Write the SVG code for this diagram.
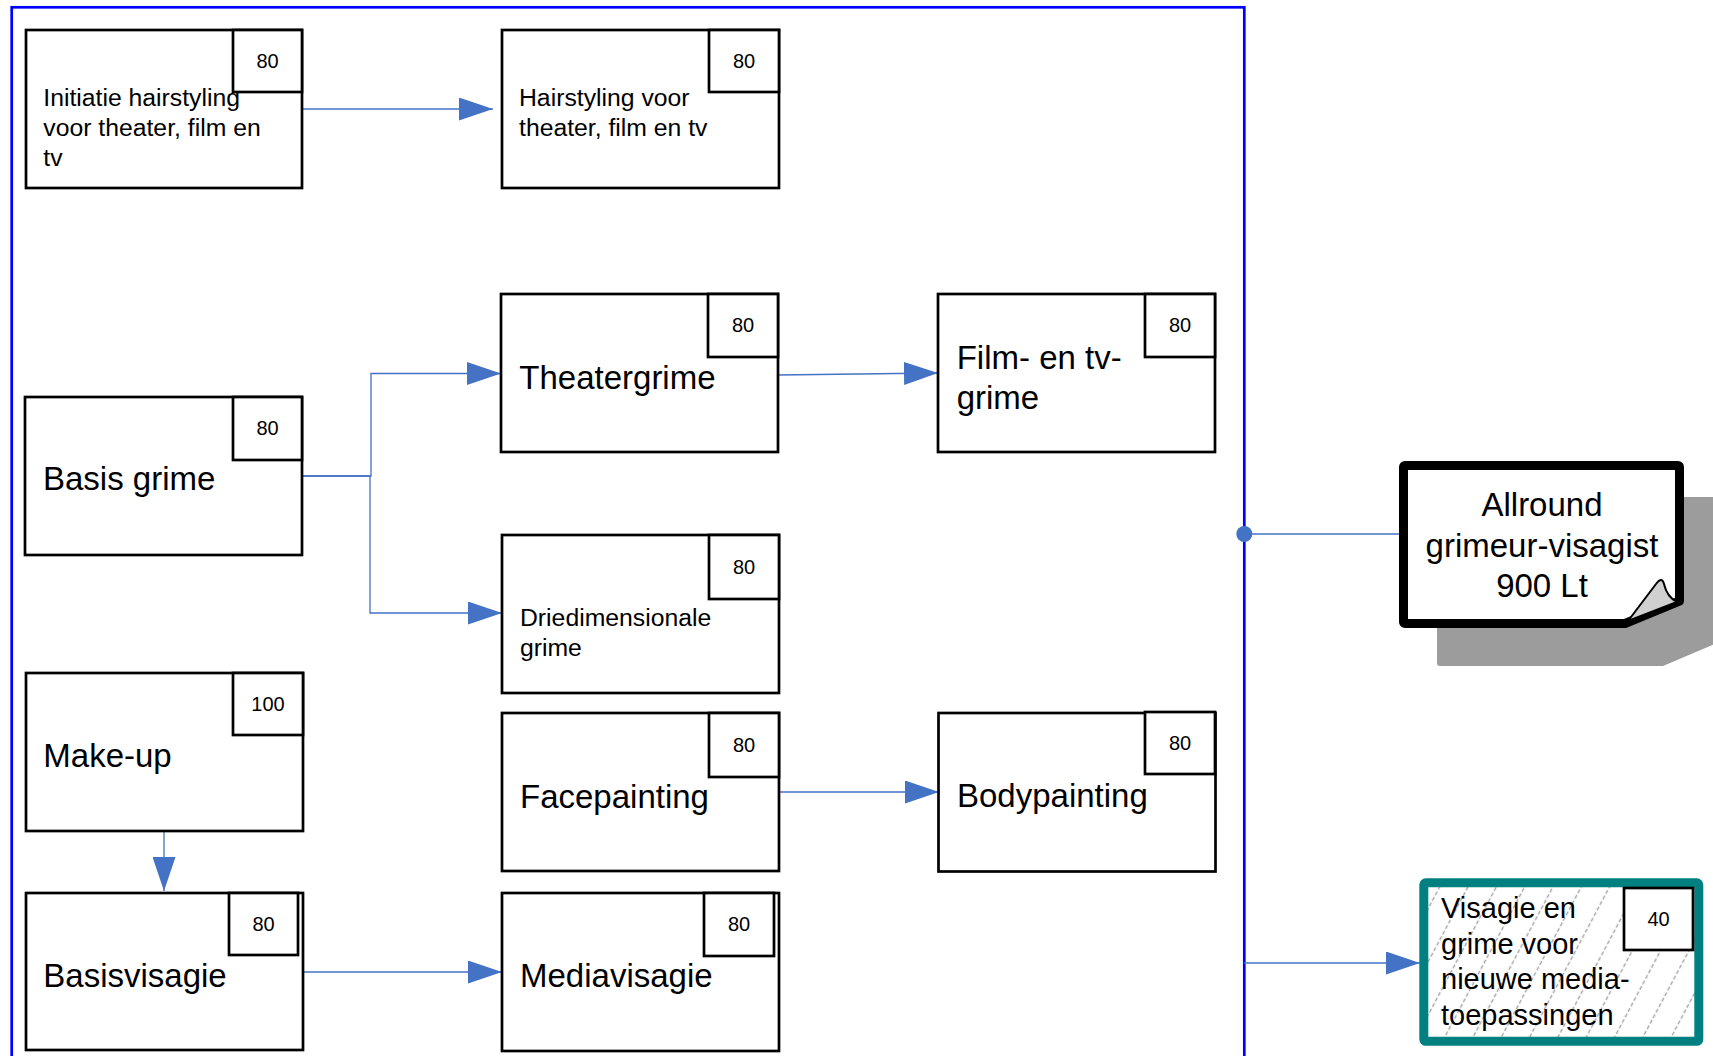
<svg xmlns="http://www.w3.org/2000/svg" width="1713" height="1056" viewBox="0 0 1713 1056">
<style>
.box{fill:#fff;stroke:#000;stroke-width:2.7}
.num{font-family:"Liberation Sans",Arial,sans-serif;font-size:20px;fill:#000;text-anchor:middle}
.sm{font-family:"Liberation Sans",Arial,sans-serif;font-size:24.75px;fill:#000}
.lg{font-family:"Liberation Sans",Arial,sans-serif;font-size:33px;fill:#000}
.md{font-family:"Liberation Sans",Arial,sans-serif;font-size:29px;fill:#000}
.conn{fill:none;stroke:#4472C4;stroke-width:1.3}
</style>
<defs>
<marker id="arr" markerUnits="userSpaceOnUse" markerWidth="34" markerHeight="23" refX="34" refY="11.5" orient="auto">
<path d="M0,0 L34,11.5 L0,23 Z" fill="#4472C4"/>
</marker>
<pattern id="hatch" width="25" height="25" patternUnits="userSpaceOnUse" patternTransform="rotate(28)">
<rect width="25" height="25" fill="#fff"/>
<line x1="12.5" y1="0" x2="12.5" y2="25" stroke="#a3a3a3" stroke-width="1.4" stroke-dasharray="4 2.25"/>
</pattern>
</defs>
<rect width="1713" height="1056" fill="#fff"/>
<g id="container">
<rect x="11.7" y="7.3" width="1232.6" height="1100" fill="none" stroke="#0000ff" stroke-width="2.7"/>
</g>
<g id="connectors">
<path class="conn" d="M302,109 H493" marker-end="url(#arr)"/>
<path class="conn" d="M302,476 H371 V373.5 H501" marker-end="url(#arr)"/>
<path class="conn" d="M302,476 H370 V613 H502" marker-end="url(#arr)"/>
<path class="conn" d="M778,375 L938,373" marker-end="url(#arr)"/>
<path class="conn" d="M164,831 V891" marker-end="url(#arr)"/>
<path class="conn" d="M303,972 H502" marker-end="url(#arr)"/>
<path class="conn" d="M779,792 H939" marker-end="url(#arr)"/>
<path class="conn" d="M1244,534 H1405"/>
<circle cx="1244.3" cy="534" r="8" fill="#4472C4"/>
<path class="conn" d="M1244,963 H1420" marker-end="url(#arr)"/>
</g>
<g id="n-initiatie">
<rect class="box" x="26" y="30" width="276" height="158"/>
<rect class="box" x="233" y="30" width="69" height="62"/>
<text class="num" x="267.5" y="68">80</text>
<text class="sm" x="43.3"><tspan x="43.3" y="106">Initiatie hairstyling</tspan><tspan x="43.3" y="136">voor theater, film en</tspan><tspan x="43.3" y="166">tv</tspan></text>
</g>
<g id="n-hairstyling">
<rect class="box" x="502" y="30" width="277" height="158"/>
<rect class="box" x="709" y="30" width="70" height="62"/>
<text class="num" x="744" y="68">80</text>
<text class="sm"><tspan x="519" y="106">Hairstyling voor</tspan><tspan x="519" y="136">theater, film en tv</tspan></text>
</g>
<g id="n-basisgrime">
<rect class="box" x="25" y="397" width="277" height="158"/>
<rect class="box" x="233" y="397" width="69" height="63"/>
<text class="num" x="267.5" y="435">80</text>
<text class="lg" x="43" y="490">Basis grime</text>
</g>
<g id="n-theatergrime">
<rect class="box" x="501" y="294" width="277" height="158"/>
<rect class="box" x="708" y="294" width="70" height="63"/>
<text class="num" x="743" y="332">80</text>
<text class="lg" x="519.3" y="388.5">Theatergrime</text>
</g>
<g id="n-film">
<rect class="box" x="938" y="294" width="277" height="158"/>
<rect class="box" x="1145" y="294" width="70" height="63"/>
<text class="num" x="1180" y="332">80</text>
<text class="lg"><tspan x="956.7" y="369">Film- en tv-</tspan><tspan x="956.7" y="408.5">grime</tspan></text>
</g>
<g id="n-driedimensionale">
<rect class="box" x="502" y="535" width="277" height="158"/>
<rect class="box" x="709" y="535" width="70" height="64"/>
<text class="num" x="744" y="574">80</text>
<text class="sm"><tspan x="520" y="626">Driedimensionale</tspan><tspan x="520" y="656">grime</tspan></text>
</g>
<g id="n-makeup">
<rect class="box" x="26" y="673" width="277" height="158"/>
<rect class="box" x="233" y="673" width="70" height="62"/>
<text class="num" x="268" y="711">100</text>
<text class="lg" x="43.3" y="767">Make-up</text>
</g>
<g id="n-facepainting">
<rect class="box" x="502" y="713" width="277" height="158"/>
<rect class="box" x="709" y="713" width="70" height="64"/>
<text class="num" x="744" y="752">80</text>
<text class="lg" x="520" y="808">Facepainting</text>
</g>
<g id="n-bodypainting">
<rect class="box" x="938.5" y="713" width="277" height="158.5"/>
<rect class="box" x="1145" y="712" width="70" height="62"/>
<text class="num" x="1180" y="750">80</text>
<text class="lg" x="957" y="807">Bodypainting</text>
</g>
<g id="n-basisvisagie">
<rect class="box" x="26" y="893" width="277" height="157"/>
<rect class="box" x="229" y="893" width="69" height="62"/>
<text class="num" x="263.5" y="931">80</text>
<text class="lg" x="43.3" y="987">Basisvisagie</text>
</g>
<g id="n-mediavisagie">
<rect class="box" x="502" y="893" width="277" height="158"/>
<rect class="box" x="704" y="893" width="70" height="63"/>
<text class="num" x="739" y="931">80</text>
<text class="lg" x="520" y="987">Mediavisagie</text>
</g>
<g id="n-allround">
<path d="M1440,497 H1722 V641 L1663,666 H1440 Q1437,666 1437,663 V497 Z" fill="#9c9c9c"/>
<path d="M1405,465.5 H1678 Q1679.5,465.5 1679.5,467 V601 L1625,623.5 H1405 Q1403.5,623.5 1403.5,622 V467 Q1403.5,465.5 1405,465.5 Z" fill="#fff" stroke="#000" stroke-width="9" stroke-linejoin="round"/>
<path d="M1628,621 L1656,584 Q1662,576 1664,584 Q1667,597 1677,602 Z" fill="#d0d0d0" stroke="#000" stroke-width="2"/>
<text class="lg" text-anchor="middle"><tspan x="1542" y="516">Allround</tspan><tspan x="1542" y="556.5">grimeur-visagist</tspan><tspan x="1542" y="597">900 Lt</tspan></text>
</g>
<g id="n-visagie">
<rect x="1423.8" y="882.8" width="275" height="158.5" rx="2" fill="url(#hatch)" stroke="#008080" stroke-width="9"/>
<rect class="box" x="1624" y="888" width="69" height="62"/>
<text class="num" x="1658.5" y="926">40</text>
<text class="md"><tspan x="1441" y="918">Visagie en</tspan><tspan x="1441" y="953.5">grime voor</tspan><tspan x="1441" y="989">nieuwe media-</tspan><tspan x="1441" y="1024.5">toepassingen</tspan></text>
</g>
</svg>
